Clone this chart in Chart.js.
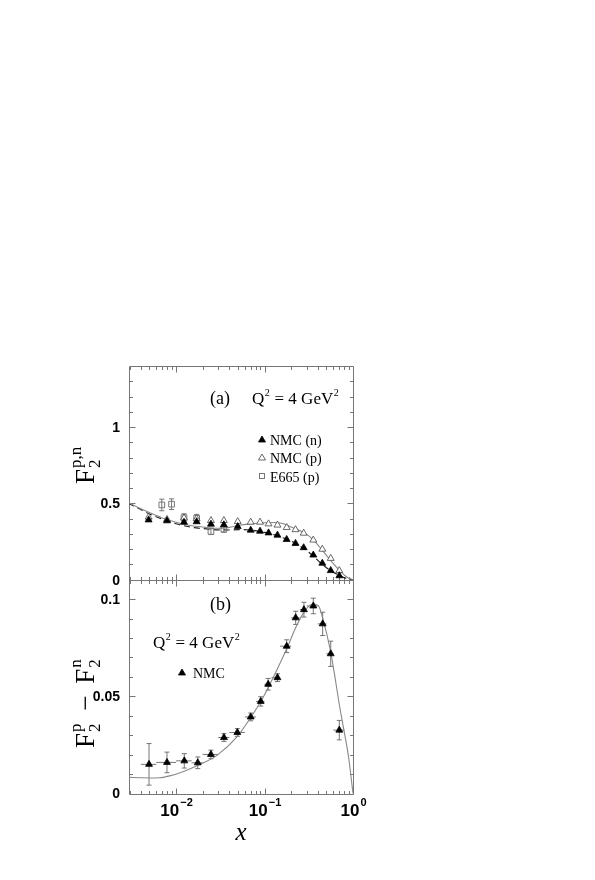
<!DOCTYPE html>
<html>
<head>
<meta charset="utf-8">
<script src="https://cdn.jsdelivr.net/npm/chart.js@4.4.0/dist/chart.umd.min.js"></script>
<style>
  html, body { margin: 0; padding: 0; background: #fff; }
  #c { display: block; }
</style>
</head>
<body>
<canvas id="c" width="595" height="880"></canvas>
<script>
// ===== panel (a): F2 for proton and neutron, Q^2 = 4 GeV^2
const nmcX  = [0.0049, 0.0079, 0.0123, 0.0171, 0.0248, 0.0347, 0.0498, 0.0698, 0.089, 0.111, 0.14, 0.178, 0.224, 0.277, 0.356, 0.45, 0.56, 0.7];
const nmcN  = [0.392, 0.386, 0.377, 0.38, 0.364, 0.36, 0.348, 0.325, 0.318, 0.307, 0.292, 0.264, 0.238, 0.21, 0.162, 0.108, 0.06, 0.026];
const nmcP  = [0.41, 0.395, 0.405, 0.4, 0.388, 0.388, 0.381, 0.377, 0.377, 0.366, 0.358, 0.342, 0.328, 0.305, 0.26, 0.2, 0.14, 0.06];
const e665X = [0.0069, 0.0089, 0.0123, 0.0171, 0.0248, 0.0347];
const e665Y = [0.49, 0.495, 0.407, 0.403, 0.316, 0.331];
const e665E = [0.038, 0.035, 0.025, 0.025, 0.02, 0.02];

const curveAX      = [0.0029, 0.004, 0.005, 0.007, 0.01, 0.014, 0.02, 0.03, 0.04, 0.05, 0.07, 0.1, 0.13, 0.16, 0.2, 0.25, 0.3, 0.36, 0.45, 0.55, 0.65, 0.75, 0.85, 0.93, 1.0];
const curveASolid  = [0.505, 0.465, 0.44, 0.405, 0.377, 0.357, 0.345, 0.337, 0.343, 0.355, 0.366, 0.373, 0.375, 0.368, 0.345, 0.322, 0.297, 0.258, 0.193, 0.132, 0.083, 0.045, 0.018, 0.006, 0];
const curveADashed = [0.5, 0.46, 0.431, 0.397, 0.367, 0.347, 0.335, 0.327, 0.326, 0.328, 0.325, 0.31, 0.294, 0.276, 0.253, 0.222, 0.19, 0.152, 0.1, 0.062, 0.038, 0.02, 0.008, 0.002, 0];

// ===== panel (b): F2p - F2n, NMC
const diffX  = [0.00495, 0.0079, 0.0124, 0.0176, 0.0248, 0.0348, 0.0493, 0.0698, 0.0906, 0.110, 0.140, 0.178, 0.225, 0.279, 0.356, 0.454, 0.56, 0.70];
const diffY  = [0.015, 0.016, 0.0168, 0.0158, 0.0201, 0.0288, 0.0314, 0.0394, 0.0474, 0.0562, 0.0596, 0.0758, 0.0904, 0.0946, 0.0965, 0.0873, 0.0719, 0.0326];
const diffE  = [0.0107, 0.0053, 0.0037, 0.003, 0.0022, 0.002, 0.002, 0.002, 0.0024, 0.003, 0.002, 0.0033, 0.0034, 0.0038, 0.004, 0.006, 0.0065, 0.005];
const diffLo = [0.004, 0.006, 0.01, 0.015, 0.02, 0.03, 0.04, 0.06, 0.08, 0.1, 0.12, 0.15, 0.2, 0.25, 0.3, 0.4, 0.5, 0.6];
const diffHi = [0.006, 0.01, 0.015, 0.02, 0.03, 0.04, 0.06, 0.08, 0.1, 0.12, 0.15, 0.2, 0.25, 0.3, 0.4, 0.5, 0.6, 0.8];

const curveBX = [0.0029, 0.004, 0.005, 0.0065, 0.0087, 0.0132, 0.0204, 0.0288, 0.0485, 0.0686, 0.097, 0.137, 0.178, 0.231, 0.287, 0.352, 0.406, 0.462, 0.55, 0.625, 0.697, 0.777, 0.89, 1.0];
const curveBY = [0.0083, 0.0081, 0.008, 0.0081, 0.0092, 0.012, 0.0158, 0.0195, 0.029, 0.0386, 0.0497, 0.0633, 0.0745, 0.0864, 0.0941, 0.0975, 0.0967, 0.089, 0.0745, 0.06, 0.0463, 0.0343, 0.0189, 0];

const xTickExp = [-2, -1, 0];
const yaTicks = ['0', '0.5', '1'];
const ybTicks = ['0', '0.05', '0.1'];

const frameColor = '#777';
const serif = '"Liberation Serif", "Times New Roman", serif';
const sans = '"Liberation Sans", Arial, sans-serif';

function pts(xs, ys) {
  return xs.map((x, i) => ({x: x, y: ys[i]}));
}

function px(v) {
  return Math.round(v) + 0.5;
}

const axesPlugin = {
  id: 'axes',
  beforeDatasetsDraw(chart) {
    const ctx = chart.ctx;
    const sx = chart.scales.x, ya = chart.scales.ya, yb = chart.scales.yb;
    const L = chart.chartArea.left, R = chart.chartArea.right;
    const T = chart.chartArea.top, B = chart.chartArea.bottom;
    const M = ya.getPixelForValue(0);

    const line = (x1, y1, x2, y2) => {
      ctx.beginPath(); ctx.moveTo(x1, y1); ctx.lineTo(x2, y2); ctx.stroke();
    };

    ctx.save();
    ctx.strokeStyle = frameColor;
    ctx.lineWidth = 1;

    // frames
    line(px(L), px(T), px(R), px(T));
    line(px(L), px(M), px(R), px(M));
    line(px(L), px(B), px(R), px(B));
    line(px(L), px(T), px(L), px(B));
    line(px(R), px(T), px(R), px(B));

    // log x ticks on every horizontal line
    for (let e = -3; e <= 0; e++) {
      for (let k = 1; k <= 9; k++) {
        const v = k * Math.pow(10, e);
        if (v < sx.min || v > 1.0001) continue;
        const xp = px(sx.getPixelForValue(v));
        const len = k === 1 ? 6 : 3.5;
        line(xp, px(T), xp, px(T) + len);
        line(xp, px(M), xp, px(M) - len);
        line(xp, px(M), xp, px(M) + len);
        line(xp, px(B), xp, px(B) - len);
        if (e === 0) break;
      }
    }

    // y ticks, panel (a)
    for (let i = 1; i <= 13; i++) {
      const yp = px(ya.getPixelForValue(i / 10));
      const len = i % 5 === 0 ? 6 : 3.5;
      line(px(L), yp, px(L) + len, yp);
      line(px(R), yp, px(R) - len, yp);
    }
    // y ticks, panel (b)
    for (let i = 1; i <= 10; i++) {
      const yp = px(yb.getPixelForValue(i / 100));
      const len = i % 5 === 0 ? 6 : 3.5;
      line(px(L), yp, px(L) + len, yp);
      line(px(R), yp, px(R) - len, yp);
    }

    // error bars
    ctx.strokeStyle = '#666';
    ctx.lineWidth = 0.9;
    e665X.forEach((v, i) => {
      const xp = sx.getPixelForValue(v);
      const y1 = ya.getPixelForValue(e665Y[i] - e665E[i]);
      const y2 = ya.getPixelForValue(e665Y[i] + e665E[i]);
      line(xp, y1, xp, y2);
      line(xp - 2.5, y1, xp + 2.5, y1);
      line(xp - 2.5, y2, xp + 2.5, y2);
    });
    diffX.forEach((v, i) => {
      const xp = sx.getPixelForValue(v);
      const yp = yb.getPixelForValue(diffY[i]);
      const y1 = yb.getPixelForValue(diffY[i] - diffE[i]);
      const y2 = yb.getPixelForValue(diffY[i] + diffE[i]);
      line(xp, y1, xp, y2);
      line(xp - 2.5, y1, xp + 2.5, y1);
      line(xp - 2.5, y2, xp + 2.5, y2);
      line(sx.getPixelForValue(diffLo[i]), yp, sx.getPixelForValue(diffHi[i]), yp);
    });
    ctx.restore();
  },

  afterDraw(chart) {
    const ctx = chart.ctx;
    const sx = chart.scales.x, ya = chart.scales.ya, yb = chart.scales.yb;
    const L = chart.chartArea.left;
    const B = chart.chartArea.bottom;
    ctx.save();
    ctx.fillStyle = '#000';

    // y tick labels
    ctx.font = 'bold 14px ' + sans;
    ctx.textAlign = 'right';
    ctx.textBaseline = 'middle';
    yaTicks.forEach(t => ctx.fillText(t, L - 9, ya.getPixelForValue(+t) + 1));
    ybTicks.forEach(t => ctx.fillText(t, L - 9, yb.getPixelForValue(+t) + 1));

    // x tick labels 10^n
    ctx.textAlign = 'left';
    ctx.textBaseline = 'alphabetic';
    xTickExp.forEach(e => {
      const xp = sx.getPixelForValue(Math.pow(10, e));
      const sup = e < 0 ? '\u2212' + (-e) : String(e);
      ctx.font = 'bold 17px "Liberation Sans Narrow", ' + sans;
      const w1 = ctx.measureText('10').width;
      ctx.font = 'bold 11px ' + sans;
      const w2 = ctx.measureText(sup).width;
      const x0 = xp - (w1 + w2) / 2;
      ctx.font = 'bold 17px "Liberation Sans Narrow", ' + sans;
      ctx.fillText('10', x0, B + 22);
      ctx.font = 'bold 11px ' + sans;
      ctx.fillText(sup, x0 + w1 + 1, B + 12);
    });

    // x axis title
    ctx.font = 'italic 25px ' + serif;
    ctx.textAlign = 'center';
    ctx.fillText('x', (chart.chartArea.left + chart.chartArea.right) / 2, B + 46);

    // rotated y titles
    const rotTitle = (x, y, parts) => {
      ctx.save();
      ctx.translate(x, y);
      ctx.rotate(-Math.PI / 2);
      ctx.textAlign = 'left';
      let cx = 0;
      parts.forEach(p => {
        if (p.gap) {
          cx += p.gap;
        } else if (p.f) {
          ctx.font = '27px ' + serif;
          ctx.fillText(p.f, cx, 0);
          cx += ctx.measureText(p.f).width;
        } else {
          ctx.font = '17px ' + serif;
          ctx.fillText(p.sub, cx + 1, 6);
          const w1 = ctx.measureText(p.sub).width;
          ctx.fillText(p.sup, cx + 1, -13);
          const w2 = ctx.measureText(p.sup).width;
          cx += Math.max(w1, w2) + 2;
        }
      });
      ctx.restore();
    };
    rotTitle(94, 484, [{f: 'F'}, {sub: '2', sup: 'p,n'}]);
    rotTitle(94, 748, [{f: 'F'}, {sub: '2', sup: 'p'}, {gap: 5}, {f: ' \u2212 '}, {gap: 5}, {f: 'F'}, {sub: '2', sup: 'n'}]);

    // annotations
    const qText = (x, y) => {
      ctx.textAlign = 'left';
      ctx.font = '17px ' + serif;
      ctx.fillText('Q', x, y);
      let cx = x + ctx.measureText('Q').width;
      ctx.font = '10px ' + serif;
      ctx.fillText('2', cx + 0.5, y - 8);
      cx += ctx.measureText('2').width + 1;
      ctx.font = '17px ' + serif;
      ctx.fillText(' = 4 GeV', cx, y);
      cx += ctx.measureText(' = 4 GeV').width;
      ctx.font = '10px ' + serif;
      ctx.fillText('2', cx + 0.5, y - 8);
    };
    ctx.font = '18px ' + serif;
    ctx.textAlign = 'left';
    ctx.fillText('(a)', 210, 404);
    qText(252, 404);
    ctx.font = '18px ' + serif;
    ctx.fillText('(b)', 210, 610);
    qText(153, 648);

    // legends
    const tri = (x, y, filled) => {
      ctx.beginPath();
      ctx.moveTo(x, y - 4);
      ctx.lineTo(x + 3.5, y + 2);
      ctx.lineTo(x - 3.5, y + 2);
      ctx.closePath();
      if (filled) { ctx.fillStyle = '#000'; ctx.fill(); }
      ctx.strokeStyle = filled ? '#000' : '#444';
      ctx.lineWidth = 0.8;
      ctx.stroke();
      ctx.fillStyle = '#000';
    };
    tri(262, 440, true);
    tri(262, 458, false);
    ctx.strokeStyle = '#777';
    ctx.lineWidth = 1;
    ctx.strokeRect(259.5, 473.5, 5, 5);
    ctx.font = '14px ' + serif;
    ctx.fillText('NMC (n)', 270, 445);
    ctx.fillText('NMC (p)', 270, 463);
    ctx.fillText('E665 (p)', 270, 481.5);
    tri(182, 673, true);
    ctx.fillText('NMC', 193, 678);
    ctx.restore();
  }
};

const ctx = document.getElementById('c').getContext('2d');

new Chart(ctx, {
  type: 'scatter',
  data: {
    datasets: [
      {
        data: pts(nmcX, nmcN), yAxisID: 'ya',
        pointStyle: 'triangle', pointRadius: 4,
        backgroundColor: '#000', borderColor: '#000', borderWidth: 0.8
      },
      {
        data: pts(nmcX, nmcP), yAxisID: 'ya',
        pointStyle: 'triangle', pointRadius: 4,
        backgroundColor: '#fff', borderColor: '#444', borderWidth: 0.8
      },
      {
        data: pts(e665X, e665Y), yAxisID: 'ya',
        pointStyle: 'rect', pointRadius: 4,
        backgroundColor: 'rgba(255,255,255,0)', borderColor: '#777', borderWidth: 1
      },
      {
        data: pts(diffX, diffY), yAxisID: 'yb',
        pointStyle: 'triangle', pointRadius: 4,
        backgroundColor: '#000', borderColor: '#000', borderWidth: 0.8
      },
      {
        data: pts(curveAX, curveASolid), yAxisID: 'ya',
        showLine: true, pointRadius: 0, borderColor: '#888', borderWidth: 1.1,
        cubicInterpolationMode: 'monotone'
      },
      {
        data: pts(curveAX, curveADashed), yAxisID: 'ya',
        showLine: true, pointRadius: 0, borderColor: '#222', borderWidth: 1.2,
        borderDash: [6, 4], cubicInterpolationMode: 'monotone'
      },
      {
        data: pts(curveBX, curveBY), yAxisID: 'yb',
        showLine: true, pointRadius: 0, borderColor: '#888', borderWidth: 1.1,
        cubicInterpolationMode: 'monotone'
      }
    ]
  },
  options: {
    responsive: false,
    animation: false,
    events: [],
    layout: { padding: { left: 129, top: 366, right: 242, bottom: 86.5 } },
    plugins: { legend: { display: false }, tooltip: { enabled: false } },
    scales: {
      x:  { type: 'logarithmic', min: 0.00294, max: 1, display: false },
      ya: { type: 'linear', min: -1.4, max: 1.4, display: false },
      yb: { type: 'linear', min: 0, max: 0.22, display: false }
    }
  },
  plugins: [axesPlugin]
});
</script>
</body>
</html>
